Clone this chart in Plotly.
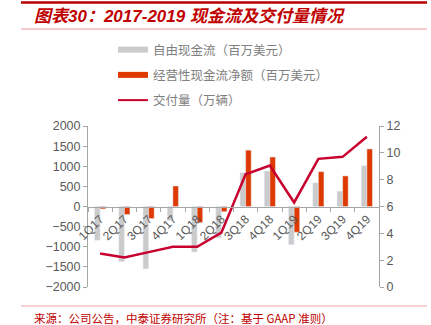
import plotly.graph_objects as go

quarters = ["1Q17", "2Q17", "3Q17", "4Q17", "1Q18", "2Q18", "3Q18", "4Q18", "1Q19", "2Q19", "3Q19", "4Q19"]
free_cash_flow = [-840, -1370, -1550, -350, -1130, -780, 840, 880, -950, 590, 380, 1015]
operating_cash_flow = [-60, -200, -300, 510, -400, -130, 1400, 1230, -640, 865, 760, 1430]
deliveries = [2.5, 2.2, 2.6, 3.0, 3.0, 4.05, 8.4, 9.05, 6.3, 9.55, 9.7, 11.2]

names = ["自由现金流（百万美元）", "经营性现金流净额（百万美元）", "交付量（万辆）"]
title_text = "图表30：2017-2019 现金流及交付量情况"
source_text = "来源：公司公告，中泰证券研究所（注：基于 GAAP 准则）"

GRAY = "#cbcbcb"
ORANGE = "#de3a00"
CRIMSON = "#c8002e"
TXT = "#595959"
FONT = "Liberation Sans, Arial, Noto Sans CJK SC"

W, H = 431, 325
L, R, T, B = 88, 379, 126, 287


def px(x):
    return (x - L) / (R - L)


def py(y):
    return (B - y) / (B - T)


fig = go.Figure()
fig.add_trace(go.Bar(x=quarters, y=free_cash_flow, marker_color=GRAY, showlegend=False, name=names[0]))
fig.add_trace(go.Bar(x=quarters, y=operating_cash_flow, marker_color=ORANGE, showlegend=False, name=names[1]))
fig.add_trace(go.Scatter(x=quarters, y=deliveries, yaxis="y2", mode="lines",
                         line=dict(color=CRIMSON, width=2.5), showlegend=False, name=names[2]))

# legend-only entries
fig.add_trace(go.Scatter(x=[None], y=[None], mode="lines", line=dict(color=GRAY, width=6),
                         name=names[0], legendgroup="a"))
fig.add_trace(go.Scatter(x=[None], y=[None], mode="lines", line=dict(color=ORANGE, width=6),
                         name=names[1], legendgroup="b"))
fig.add_trace(go.Scatter(x=[None], y=[None], mode="lines", line=dict(color=CRIMSON, width=2),
                         name=names[2], legendgroup="c"))

fig.update_layout(
    width=W, height=H,
    margin=dict(l=L, r=W - R, t=T, b=H - B, pad=0),
    paper_bgcolor="white", plot_bgcolor="white",
    barmode="group", bargap=0.54, bargroupgap=0,
    font=dict(family=FONT, size=12, color=TXT),
    xaxis=dict(anchor="free", position=0.5, showline=True, linecolor="#a6a6a6", linewidth=1,
               ticks="outside", ticklen=4, tickcolor="#a6a6a6", tickson="boundaries",
               tickangle=-45, tickfont=dict(size=12, color=TXT), showgrid=False),
    yaxis=dict(range=[-2000, 2000], dtick=500, showline=True, linecolor="#a6a6a6",
               ticks="outside", ticklen=4, tickcolor="#a6a6a6", showgrid=False, zeroline=False,
               tickfont=dict(size=12.5, color=TXT)),
    yaxis2=dict(range=[0, 12], dtick=2, overlaying="y", side="right", showline=True,
                linecolor="#a6a6a6", ticks="outside", ticklen=4, tickcolor="#a6a6a6",
                showgrid=False, zeroline=False, tickfont=dict(size=12.5, color=TXT)),
    legend=dict(x=px(113), y=py(35), xanchor="left", yanchor="top", tracegroupgap=6,
                font=dict(size=12.5, color="#808080", family="Noto Sans CJK SC"),
                bgcolor="rgba(0,0,0,0)"),
)

# decorative lines
fig.add_shape(type="line", xref="paper", yref="paper", x0=px(21), x1=px(427), y0=py(2.5), y1=py(2.5),
              line=dict(color="#b80000", width=2.5))
fig.add_shape(type="line", xref="paper", yref="paper", x0=px(21), x1=px(427), y0=py(29), y1=py(29),
              line=dict(color="#f2b8b8", width=1.5))
fig.add_shape(type="line", xref="paper", yref="paper", x0=px(21), x1=px(427), y0=py(306), y1=py(306),
              line=dict(color="#f0a0a0", width=1))

fig.add_annotation(x=px(32), y=py(16), xref="paper", yref="paper", xanchor="left", yanchor="middle",
                   text="<b><i>" + title_text + "</i></b>", showarrow=False,
                   font=dict(size=17, color="#c00000", family="Liberation Sans, Noto Sans CJK SC"))
fig.add_annotation(x=px(32), y=py(318), xref="paper", yref="paper", xanchor="left", yanchor="middle",
                   text=source_text, showarrow=False,
                   font=dict(size=11.5, color="#c00000", family="Noto Sans CJK SC"))

fig.write_html("out.html")
